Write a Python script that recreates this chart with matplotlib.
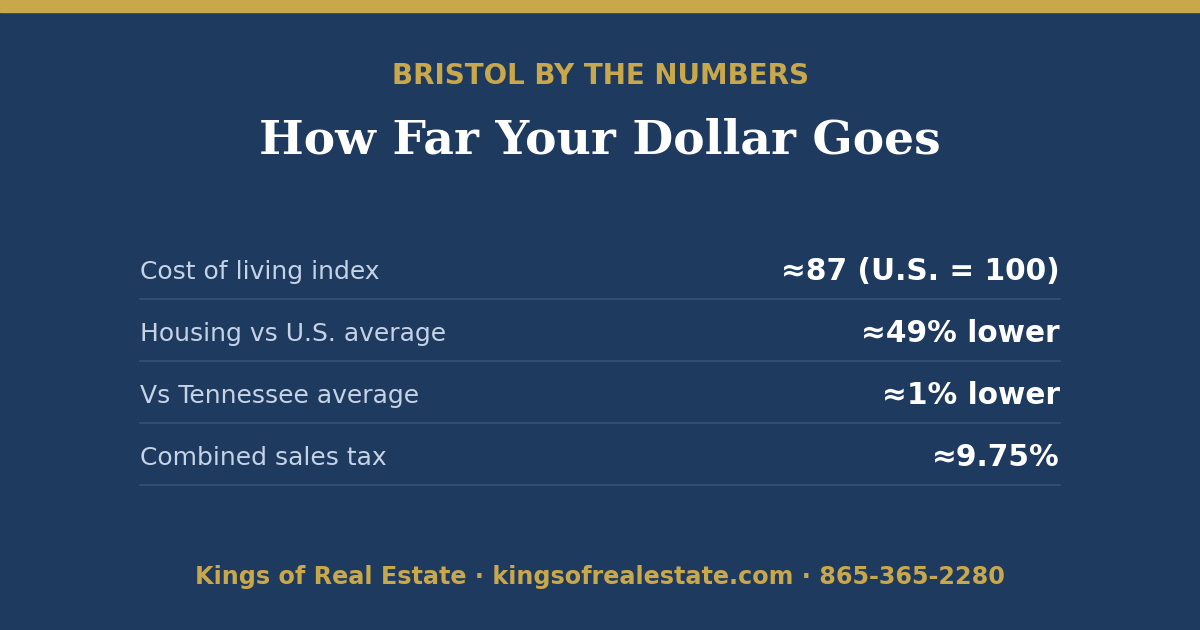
import matplotlib
matplotlib.use("Agg")
import matplotlib.pyplot as plt
from matplotlib.patches import Rectangle
from matplotlib.lines import Line2D

kicker = "BRISTOL BY THE NUMBERS"
title = "How Far Your Dollar Goes"
labels = ["Cost of living index", "Housing vs U.S. average", "Vs Tennessee average", "Combined sales tax"]
values = ["≈87 (U.S. = 100)", "≈49% lower", "≈1% lower", "≈9.75%"]
footer = "Kings of Real Estate · kingsofrealestate.com · 865-365-2280"

W, H = 1200, 630
bg = "#1f3a5f"; gold = "#c9a84c"
fig = plt.figure(figsize=(12, 6.3), dpi=100, facecolor=bg)
def fy(p): return 1 - p / H
def fx(p): return p / W

fig.add_artist(Rectangle((0, fy(12)), 1, 12 / H, transform=fig.transFigure, color=gold))
fig.text(0.5, fy(76), kicker, ha="center", va="center", color=gold, fontsize=20, fontweight="bold", family="DejaVu Sans")
fig.text(0.5, fy(140), title, ha="center", va="center", color="white", fontsize=34, fontweight="bold", family="DejaVu Serif")

for i, (l, v) in enumerate(zip(labels, values)):
    yc = 272 + 62 * i
    fig.text(fx(140), fy(yc), l, ha="left", va="center", color="#c5d3e6", fontsize=18, family="DejaVu Sans")
    fig.text(fx(1060), fy(yc), v, ha="right", va="center", color="white", fontsize=21.3, fontweight="bold", family="DejaVu Sans")
    ly = fy(yc + 27)
    fig.add_artist(Line2D([fx(140), fx(1060)], [ly, ly], transform=fig.transFigure, color="#36527a", lw=1.2))

fig.text(0.5, fy(577), footer, ha="center", va="center", color=gold, fontsize=17.2, fontweight="bold", family="DejaVu Sans")
fig.savefig("out.png", dpi=100, facecolor=bg)
